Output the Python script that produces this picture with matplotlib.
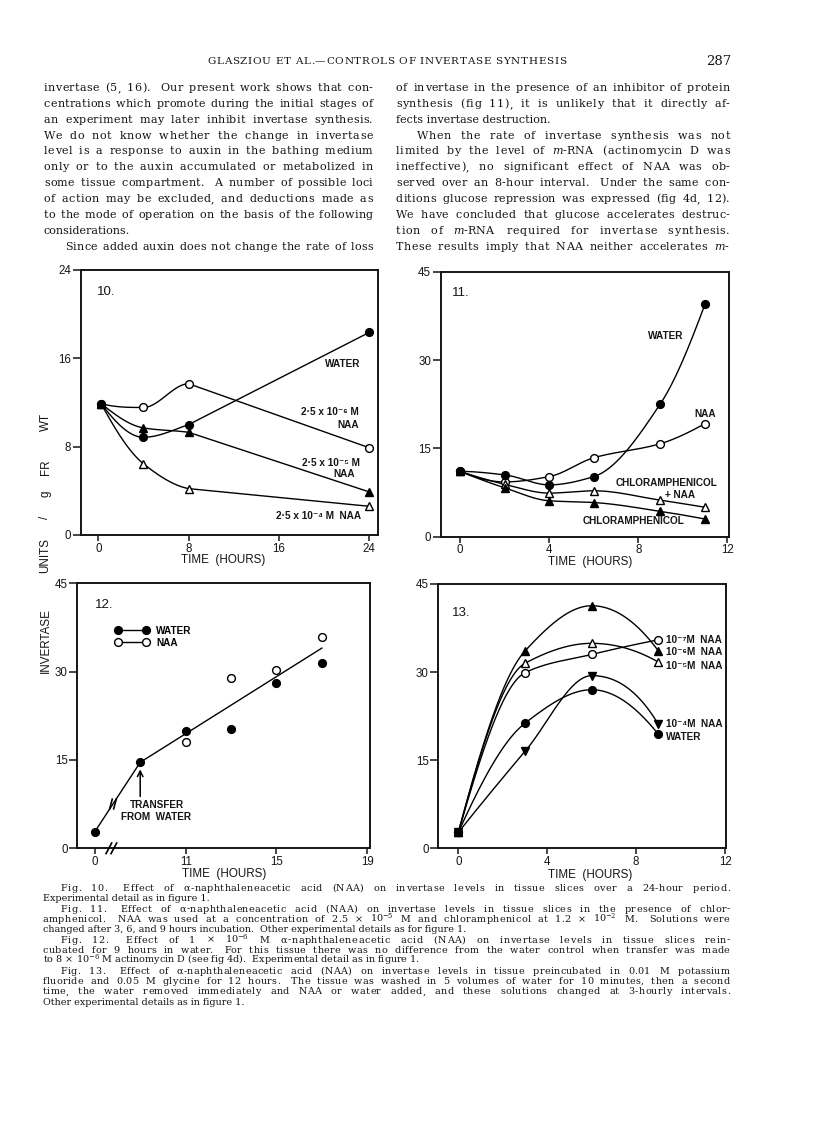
import numpy as np
import matplotlib
matplotlib.use("Agg")
import matplotlib.pyplot as plt
from matplotlib.font_manager import FontProperties
from matplotlib.lines import Line2D

plt.rcParams['mathtext.fontset'] = 'dejavuserif'

# ---------------- data ----------------
# Fig 10
f10_hours = [0.25, 4, 8, 24]
f10_water = [11.9, 8.85, 10.0, 18.35]
f10_naa_2p5e6 = [11.9, 11.55, 13.7, 7.9]
f10_naa_2p5e5 = [11.9, 9.7, 9.3, 3.9]
f10_naa_2p5e4 = [11.9, 6.45, 4.2, 2.6]
f10_ticks = [0, 8, 16, 24]

# Fig 11
f11_hours = [0, 2, 4, 6, 9, 11]
f11_water = [11.1, 10.5, 8.8, 10.2, 22.6, 39.5]
f11_naa = [11.1, 9.3, 10.2, 13.4, 15.8, 19.2]
f11_chloramph_naa = [11.1, 8.9, 7.4, 7.8, 6.2, 5.0]
f11_chloramph = [11.1, 8.3, 6.1, 5.8, 4.3, 3.0]
f11_xticks = [0, 4, 8, 12]
yticks_45 = [0, 15, 30, 45]

# Fig 12
f12_water_hours = [0, 9, 11, 13, 15, 17]
f12_water = [2.8, 14.6, 20.0, 20.2, 28.0, 31.5]
f12_naa_hours = [11, 13, 15, 17]
f12_naa = [18.1, 29.0, 30.2, 35.8]
f12_line_hours = [0, 9, 17]
f12_line = [2.8, 14.6, 34.0]
f12_xticks = [0, 11, 15, 19]
f12_gap = 7          # hours cut out of the axis by the break

# Fig 13
f13_hours = [0, 3, 6, 9]
f13_naa_1e7 = [2.7, 29.9, 33.0, 35.5]
f13_naa_1e6 = [2.7, 33.6, 41.3, 33.6]
f13_naa_1e5 = [2.7, 31.5, 34.9, 31.7]
f13_naa_1e4 = [2.7, 16.5, 29.4, 21.1]
f13_water = [2.7, 21.3, 27.0, 19.4]

# ---------------- page text ----------------
header = "GLASZIOU ET AL.—CONTROLS OF INVERTASE SYNTHESIS"
page_no = "287"
left_col = [
    ("invertase (5, 16).  Our present work shows that con-", 0, True),
    ("centrations which promote during the initial stages of", 0, True),
    ("an experiment may later inhibit invertase synthesis.", 0, True),
    ("We do not know whether the change in invertase", 0, True),
    ("level is a response to auxin in the bathing medium", 0, True),
    ("only or to the auxin accumulated or metabolized in", 0, True),
    ("some tissue compartment.  A number of possible loci", 0, True),
    ("of action may be excluded, and deductions made as", 0, True),
    ("to the mode of operation on the basis of the following", 0, True),
    ("considerations.", 0, False),
    ("Since added auxin does not change the rate of loss", 21, True),
]
right_col = [
    ("of invertase in the presence of an inhibitor of protein", 0, True),
    ("synthesis (fig 11), it is unlikely that it directly af-", 0, True),
    ("fects invertase destruction.", 0, False),
    ("When the rate of invertase synthesis was not", 21, True),
    ("limited by the level of $m$-RNA (actinomycin D was", 0, True),
    ("ineffective), no significant effect of NAA was ob-", 0, True),
    ("served over an 8-hour interval.  Under the same con-", 0, True),
    ("ditions glucose repression was expressed (fig 4d, 12).", 0, True),
    ("We have concluded that glucose accelerates destruc-", 0, True),
    ("tion of $m$-RNA required for invertase synthesis.", 0, True),
    ("These results imply that NAA neither accelerates $m$-", 0, True),
]
captions = [
    ("Fig. 10.  Effect of α-naphthaleneacetic acid (NAA) on invertase levels in tissue slices over a 24-hour period.", 18, True),
    ("Experimental detail as in figure 1.", 0, False),
    ("Fig. 11.  Effect of α-naphthaleneacetic acid (NAA) on invertase levels in tissue slices in the presence of chlor-", 18, True),
    ("amphenicol.  NAA was used at a concentration of 2.5 × 10$^{-5}$ M and chloramphenicol at 1.2 × 10$^{-2}$ M.  Solutions were", 0, True),
    ("changed after 3, 6, and 9 hours incubation.  Other experimental details as for figure 1.", 0, False),
    ("Fig. 12.  Effect of 1 × 10$^{-6}$ M α-naphthaleneacetic acid (NAA) on invertase levels in tissue slices rein-", 18, True),
    ("cubated for 9 hours in water.  For this tissue there was no difference from the water control when transfer was made", 0, True),
    ("to 8 × 10$^{-6}$ M actinomycin D (see fig 4d).  Experimental detail as in figure 1.", 0, False),
    ("Fig. 13.  Effect of α-naphthaleneacetic acid (NAA) on invertase levels in tissue preincubated in 0.01 M potassium", 18, True),
    ("fluoride and 0.05 M glycine for 12 hours.  The tissue was washed in 5 volumes of water for 10 minutes, then a second", 0, True),
    ("time, the water removed immediately and NAA or water added, and these solutions changed at 3-hourly intervals.", 0, True),
    ("Other experimental details as in figure 1.", 0, False),
]

# ---------------- figure ----------------
W, H, DPI = 816, 1127, 100
fig = plt.figure(figsize=(W / DPI, H / DPI), dpi=DPI)
fig.patch.set_facecolor("white")
renderer = fig.canvas.get_renderer()

INK = "#151515"
CH = ["Liberation Sans", "DejaVu Sans"]
SERIF = ["DejaVu Serif"]
fp_tick = FontProperties(family=CH, size=8.3)
fp_lab = FontProperties(family=CH, size=8.4)
fp_ann = FontProperties(family=CH, size=7.2, weight="bold")
fp_num = FontProperties(family=CH, size=9.5)
fp_body = FontProperties(family=SERIF, size=8.0)
fp_cap = FontProperties(family=SERIF, size=6.9)
fp_head = FontProperties(family=SERIF, size=7.5)
fp_page = FontProperties(family=SERIF, size=9.5)

_cache = {}


def fx(px):
    return px / W


def fy(py):
    return 1 - py / H


def measure(s, fp):
    key = (s, fp.get_size_in_points())
    if key not in _cache:
        w, h, d = renderer.get_text_width_height_descent(s, fp, ismath=("$" in s))
        _cache[key] = w
    return _cache[key]


def draw_word(x, ybase, word, fp, ls):
    if "$" in word or ls < 0.05 or len(word) == 1:
        fig.text(fx(x), fy(ybase), word, fontproperties=fp, ha="left",
                 va="baseline", color=INK)
        return
    for k, c in enumerate(word):
        pos = 0.0 if k == 0 else measure(word[:k + 1], fp) - measure(c, fp)
        fig.text(fx(x + pos + k * ls), fy(ybase), c, fontproperties=fp,
                 ha="left", va="baseline", color=INK)


def put_line(text, x0, x1, ybase, fp, justify, alpha):
    if not justify:
        fig.text(fx(x0), fy(ybase), text, fontproperties=fp, ha="left",
                 va="baseline", color=INK)
        return
    words = text.split()
    nat = [measure(w, fp) for w in words]
    inner = [0 if "$" in w else len(w) - 1 for w in words]
    weights = [1.6 if w.endswith(".") and not w.startswith("Fig") else 1.0
               for w in words[:-1]]
    space = measure("a a", fp) - 2 * measure("a", fp)
    extra = (x1 - x0) - sum(nat) - space * sum(weights)
    ls = 0.0
    if extra > 0 and sum(inner) > 0:
        ls = min(alpha * extra / sum(inner), 1.0)
        extra -= ls * sum(inner)
    x = x0
    for i, w in enumerate(words):
        draw_word(x, ybase, w, fp, ls)
        if i < len(weights):
            x += nat[i] + inner[i] * ls + weights[i] * (space + extra / sum(weights))


def tracked(text, x0, x1, ybase, fp):
    sp = measure("a a", fp) - 2 * measure("a", fp)
    widths = [sp if c == " " else measure(c, fp) for c in text]
    extra = (x1 - x0 - sum(widths)) / (len(text) - 1)
    x = x0
    for c, wd in zip(text, widths):
        if c != " ":
            fig.text(fx(x), fy(ybase), c, fontproperties=fp, ha="left",
                     va="baseline", color=INK)
        x += wd + extra


# header and body text
tracked(header, 207, 566, 64.5, fp_head)
fig.text(fx(731), fy(65), page_no, fontproperties=fp_page, ha="right",
         va="baseline", color=INK)
for i, (t, ind, j) in enumerate(left_col):
    put_line(t, 44 + ind, 372.7, 88.3 + i * 15.84 + 2.8, fp_body, j, 0.3)
for i, (t, ind, j) in enumerate(right_col):
    put_line(t, 396 + ind, 729.7, 88.3 + i * 15.84 + 2.8, fp_body, j, 0.3)
for i, (t, ind, j) in enumerate(captions):
    put_line(t, 42.7 + ind, 729.7, 888.3 + i * 10.36 + 2.5, fp_cap, j, 0.2)


# ---------------- helpers ----------------
def pchip(x, y, n=60):
    x = np.asarray(x, float)
    y = np.asarray(y, float)
    h = np.diff(x)
    d = np.diff(y) / h
    m = np.zeros_like(y)
    for k in range(1, len(x) - 1):
        if d[k - 1] * d[k] > 0:
            w1 = 2 * h[k] + h[k - 1]
            w2 = h[k] + 2 * h[k - 1]
            m[k] = (w1 + w2) / (w1 / d[k - 1] + w2 / d[k])

    def end(h0, h1, d0, d1):
        mm = ((2 * h0 + h1) * d0 - h0 * d1) / (h0 + h1)
        if np.sign(mm) != np.sign(d0):
            mm = 0.0
        elif np.sign(d0) != np.sign(d1) and abs(mm) > abs(3 * d0):
            mm = 3 * d0
        return mm

    if len(x) > 2:
        m[0] = end(h[0], h[1], d[0], d[1])
        m[-1] = end(h[-1], h[-2], d[-1], d[-2])
    else:
        m[:] = d[0]
    xs, ys = [], []
    t = np.linspace(0, 1, n)
    h00 = 2 * t**3 - 3 * t**2 + 1
    h10 = t**3 - 2 * t**2 + t
    h01 = -2 * t**3 + 3 * t**2
    h11 = t**3 - t**2
    for k in range(len(x) - 1):
        xs.append(x[k] + t * h[k])
        ys.append(h00 * y[k] + h10 * h[k] * m[k] + h01 * y[k + 1] + h11 * h[k] * m[k + 1])
    return np.concatenate(xs), np.concatenate(ys)


MS = 5.6
LW = 1.0


def markers(ax, x, y, marker, filled):
    ax.plot(x, y, ls="none", marker=marker, ms=MS, mfc="k" if filled else "white",
            mec="k", mew=1.0, zorder=5 if filled else 4, clip_on=False)


def make_ax(l, t, r, b):
    ax = fig.add_axes([l / W, 1 - b / H, (r - l) / W, (b - t) / H])
    for s in ax.spines.values():
        s.set_linewidth(1.4)
        s.set_color(INK)
    ax.tick_params(axis="x", direction="out", length=4.5, width=1.1, pad=1.0, colors=INK)
    ax.tick_params(axis="y", direction="out", length=5.5, width=1.1, pad=1.5, colors=INK)
    return ax


def style_ticks(ax):
    for lab in ax.get_xticklabels() + ax.get_yticklabels():
        lab.set_fontproperties(fp_tick)


def label(ax, x, y, s, fp=fp_ann, ha="left"):
    ax.text(x, y, s, fontproperties=fp, ha=ha, va="center", color=INK)


# ---------------- Fig 10 ----------------
ax = make_ax(80.7, 270, 378, 535)
ax.set_xlim(-1.56, 24.77)
ax.set_ylim(0, 24)
ax.set_xticks(f10_ticks)
ax.set_yticks(f10_ticks)
split = f10_hours[2]
for ys, mk, filled in [(f10_naa_2p5e6, "o", False), (f10_naa_2p5e4, "^", False),
                       (f10_naa_2p5e5, "^", True), (f10_water, "o", True)]:
    sx, sy = pchip(f10_hours, ys)
    keep = sx <= split
    ax.plot(sx[keep], sy[keep], color="k", lw=LW)
    ax.plot(f10_hours[2:], ys[2:], color="k", lw=LW)
    markers(ax, f10_hours, ys, mk, filled)
style_ticks(ax)
label(ax, -0.1, 22.0, "10.", fp_num)
label(ax, 20.05, 15.45, "WATER")
label(ax, 23.1, 11.15, "2·5 x 10⁻⁶ M", ha="right")
label(ax, 23.1, 10.0, "NAA", ha="right")
label(ax, 23.15, 6.55, "2·5 x 10⁻⁵ M", ha="right")
label(ax, 22.7, 5.55, "NAA", ha="right")
label(ax, 23.3, 1.7, "2·5 x 10⁻⁴ M  NAA", ha="right")
fig.text(fx(223), fy(560), "TIME  (HOURS)", fontproperties=fp_lab, ha="center", va="center", color=INK)

# ---------------- Fig 11 ----------------
ax = make_ax(440.7, 271.7, 729.3, 536.7)
ax.set_xlim(-0.87, 12.09)
ax.set_ylim(0, 45)
ax.set_xticks(f11_xticks)
ax.set_yticks(yticks_45)
for ys, mk, filled in [(f11_naa, "o", False), (f11_chloramph_naa, "^", False),
                       (f11_chloramph, "^", True), (f11_water, "o", True)]:
    sx, sy = pchip(f11_hours, ys)
    ax.plot(sx, sy, color="k", lw=LW)
    markers(ax, f11_hours, ys, mk, filled)
style_ticks(ax)
label(ax, -0.36, 41.4, "11.", fp_num)
label(ax, 8.46, 34.0, "WATER")
label(ax, 10.5, 20.8, "NAA")
label(ax, 7.0, 9.2, "CHLORAMPHENICOL")
label(ax, 9.2, 7.1, "+ NAA")
label(ax, 5.5, 2.7, "CHLORAMPHENICOL")
fig.text(fx(590), fy(562), "TIME  (HOURS)", fontproperties=fp_lab, ha="center", va="center", color=INK)


# ---------------- Fig 12 ----------------
def axis12(hours):
    h = np.asarray(hours, float)
    return np.where(h > 0, h - f12_gap, 0.0)


ax = make_ax(77.3, 583.3, 370, 848.3)
ax.set_xlim(-0.77, 12.12)
ax.set_ylim(0, 45)
ax.set_xticks(axis12(f12_xticks))
ax.set_xticklabels([str(h) for h in f12_xticks])
ax.set_yticks(yticks_45)
ax.plot(axis12(f12_line_hours), f12_line, color="k", lw=LW)
markers(ax, axis12(f12_naa_hours), f12_naa, "o", False)
markers(ax, axis12(f12_water_hours), f12_water, "o", True)
style_ticks(ax)


def slashes(ax, xd, yd, angle, length, sep, clip=True):
    cx, cy = ax.transData.transform((xd, yd))
    a = np.deg2rad(angle)
    ux, uy = np.cos(a), np.sin(a)
    inv = ax.transData.inverted()
    for off in (-sep / 2, sep / 2):
        p0 = inv.transform((cx + off - ux * length / 2, cy - uy * length / 2))
        p1 = inv.transform((cx + off + ux * length / 2, cy + uy * length / 2))
        ax.plot([p0[0], p1[0]], [p0[1], p1[1]], color="k", lw=1.2, clip_on=clip, zorder=6)


bx = 0.8
slashes(ax, bx, np.interp(bx, axis12(f12_line_hours), f12_line), 75, 10, 4)
slashes(ax, 0.73, 0, 62, 12, 5, clip=False)
ax.annotate("", xy=(2.0, 13.4), xytext=(2.0, 8.8),
            arrowprops=dict(arrowstyle="->", lw=1.1, color="k", shrinkA=0, shrinkB=0))
label(ax, 1.55, 7.35, "TRANSFER")
label(ax, 1.15, 5.35, "FROM  WATER")
label(ax, 0.0, 41.3, "12.", fp_num)
hw = Line2D([], [], color="k", lw=LW, marker="o", ms=MS, mfc="k", mec="k")
hn = Line2D([], [], color="k", lw=LW, marker="o", ms=MS, mfc="white", mec="k")
ax.legend([hw, hn], ["WATER", "NAA"], numpoints=2, frameon=False, loc="upper left",
          bbox_to_anchor=(0.13, 0.84), handlelength=3.4, handletextpad=0.7,
          labelspacing=0.2, prop=fp_ann, borderaxespad=0, borderpad=0)
fig.text(fx(224), fy(874), "TIME  (HOURS)", fontproperties=fp_lab, ha="center", va="center", color=INK)

# ---------------- Fig 13 ----------------
ax = make_ax(438.3, 584, 726, 848.3)
ax.set_xlim(-0.9, 12.04)
ax.set_ylim(0, 45)
ax.set_xticks(f11_xticks)
ax.set_yticks(yticks_45)
for ys, mk, filled in [(f13_naa_1e7, "o", False), (f13_naa_1e5, "^", False),
                       (f13_naa_1e6, "^", True), (f13_naa_1e4, "v", True),
                       (f13_water, "o", True)]:
    sx, sy = pchip(f13_hours, ys)
    ax.plot(sx, sy, color="k", lw=LW)
    markers(ax, f13_hours, ys, mk, filled)
style_ticks(ax)
label(ax, -0.28, 40.0, "13.", fp_num)
label(ax, 9.35, 35.5, "10⁻⁷M  NAA")
label(ax, 9.35, 33.4, "10⁻⁶M  NAA")
label(ax, 9.35, 31.0, "10⁻⁵M  NAA")
label(ax, 9.35, 21.2, "10⁻⁴M  NAA")
label(ax, 9.35, 19.0, "WATER")
fig.text(fx(590), fy(875), "TIME  (HOURS)", fontproperties=fp_lab, ha="center", va="center", color=INK)

# ---------------- shared y label ----------------
for word, yc in [("INVERTASE", 641), ("UNITS", 555.5), ("/", 517), ("g", 493.5),
                 ("FR", 467.5), ("WT", 421.5)]:
    fig.text(fx(45.5), fy(yc), word, fontproperties=fp_lab, rotation=90,
             ha="center", va="center", color=INK)

fig.savefig("out.png", dpi=DPI, facecolor="white")
